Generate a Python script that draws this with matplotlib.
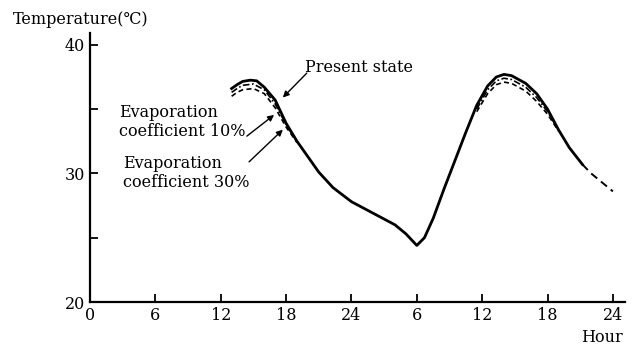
import matplotlib
matplotlib.use('Agg')
from matplotlib import pyplot as plt

# hours counted from 0 at midnight of day 1 (0-48)
hours_present = [13, 13.5, 14, 14.7, 15.3, 16, 17, 18, 19, 20, 21, 22.3, 24, 26, 28, 29, 30,
                 30.7, 31.5, 32.5, 33.5, 34.5, 35.5, 36.5, 37.3, 38, 38.7, 40, 41, 42, 43, 44, 45.2]
temp_present = [36.6, 36.9, 37.15, 37.25, 37.2, 36.7, 35.7, 33.9, 32.5, 31.3, 30.1, 28.9, 27.8,
                26.9, 26.0, 25.3, 24.4, 25.0, 26.5, 28.8, 31.0, 33.2, 35.3, 36.8, 37.5, 37.7,
                37.6, 37.0, 36.2, 35.0, 33.4, 32.0, 30.7]
hours_tail = [45.2, 46, 47, 48]
temp_tail = [30.7, 30.0, 29.3, 28.6]

hours_left = [13, 13.5, 14, 15, 16, 17, 18, 19]
temp10_left = [36.3, 36.6, 36.85, 36.95, 36.5, 35.4, 33.8, 32.5]
temp30_left = [36.0, 36.3, 36.5, 36.6, 36.2, 35.1, 33.6, 32.4]

hours_right = [35.5, 36.5, 37.3, 38, 38.7, 40, 41, 42, 43]
temp10_right = [35.0, 36.5, 37.2, 37.4, 37.3, 36.7, 35.9, 34.8, 33.4]
temp30_right = [34.8, 36.2, 36.9, 37.1, 37.0, 36.4, 35.6, 34.6, 33.3]

xticks = [0, 6, 12, 18, 24, 30, 36, 42, 48]
xtick_labels = ['0', '6', '12', '18', '24', '6', '12', '18', '24']

plt.rcParams['font.family'] = ['DejaVu Serif']

fig = plt.figure(figsize=(6.37, 3.57), dpi=100)
ax = fig.add_axes([0.1413, 0.154, 0.981 - 0.1413, 0.908 - 0.154])

ax.plot(hours_present, temp_present, color='black', lw=2.0)
ax.plot(hours_tail, temp_tail, color='black', lw=1.4, ls=(0, (4, 2.5)))
ax.plot(hours_left, temp10_left, color='black', lw=1.2, ls=(0, (4, 1.5, 1, 1.5)))
ax.plot(hours_left, temp30_left, color='black', lw=1.2, ls=(0, (3, 2)))
ax.plot(hours_right, temp10_right, color='black', lw=1.2, ls=(0, (4, 1.5, 1, 1.5)))
ax.plot(hours_right, temp30_right, color='black', lw=1.2, ls=(0, (3, 2)))

ax.set_xlim(0, 49.1)
ax.set_ylim(20, 40.93)
for s in ['top', 'right']:
    ax.spines[s].set_visible(False)
for s in ['left', 'bottom']:
    ax.spines[s].set_linewidth(1.6)

ax.set_xticks(xticks)
ax.set_xticklabels(xtick_labels)
ax.set_yticks([20, 25, 30, 35, 40])
ax.set_yticklabels(['20', '', '30', '', '40'])
ax.tick_params(axis='both', direction='in', length=6, width=1.3, labelsize=11.5)

# labels with pointer arrows
arrow = dict(arrowstyle='-|>', color='black', lw=1.0, mutation_scale=9, shrinkA=0, shrinkB=0)
ax.text(19.7, 38.2, 'Present state', fontsize=11.5, ha='left', va='center')
ax.annotate('', xy=(17.7, 35.9), xytext=(19.9, 37.8), arrowprops=arrow)

ax.text(2.7, 34.0, 'Evaporation\ncoefficient 10%', fontsize=11.5, ha='left',
        va='center', linespacing=1.15)
ax.annotate('', xy=(16.9, 34.55), xytext=(14.4, 32.9), arrowprops=arrow)

ax.text(3.0, 30.0, 'Evaporation\ncoefficient 30%', fontsize=11.5, ha='left',
        va='center', linespacing=1.15)
ax.annotate('', xy=(17.7, 33.4), xytext=(14.6, 30.9), arrowprops=arrow)

fig.text(13 / 637, 1 - 19 / 357, 'Temperature(\u2103)', fontsize=11.5, ha='left', va='center')
fig.text(623 / 637, 1 - 338 / 357, 'Hour', fontsize=11.5, ha='right', va='center')

fig.savefig('out.png', dpi=100)
